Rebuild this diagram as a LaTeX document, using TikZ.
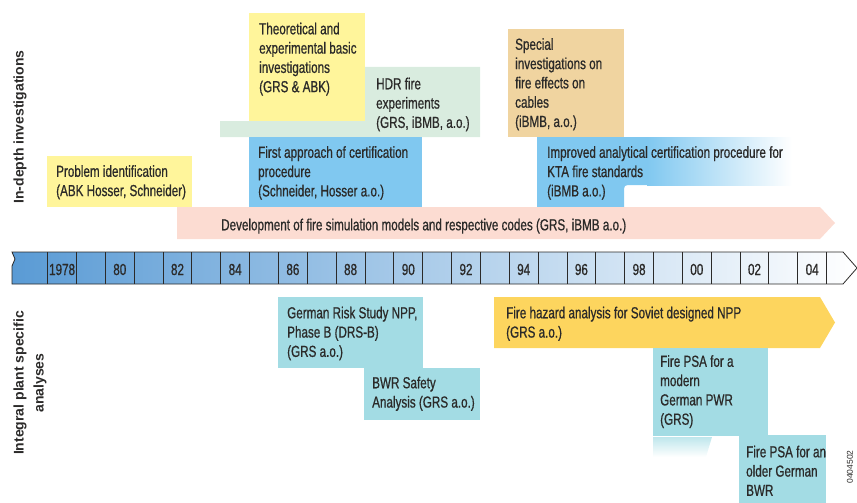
\documentclass[tikz,border=0pt]{standalone}
\usepackage{fontspec}
\newfontfamily\boxfont[FakeStretch=0.73,FakeBold=0.7]{Liberation Sans}
\newfontfamily\sidefont{Liberation Sans}
\definecolor{paleyellow}{HTML}{FFF59B}
\definecolor{palegreen}{HTML}{D9ECDF}
\definecolor{skyblue}{HTML}{80C8F0}
\definecolor{sand}{HTML}{F0D4A0}
\definecolor{blush}{HTML}{FCDCD2}
\definecolor{aqua}{HTML}{A3DCE4}
\definecolor{gold}{HTML}{FDD55E}
\definecolor{tlblue}{HTML}{5A9BD5}
\definecolor{inktext}{HTML}{2B2A29}
\begin{document}
\begin{tikzpicture}[x=1pt,y=1pt,yscale=-1,
  boxtext/.style={anchor=north west,inner sep=0pt,align=left,text=inktext,font=\boxfont\fontsize{16}{19.3}\selectfont},
  sidetext/.style={rotate=90,inner sep=0pt,align=center,text=inktext,font=\sidefont\bfseries\fontsize{14}{20}\selectfont},
  yeartext/.style={inner sep=0pt,text=inktext,font=\boxfont\fontsize{16}{18}\selectfont},
  yearline/.style={draw=inktext,line width=1pt}]
\useasboundingbox (0,0) rectangle (857,503);

%Shape: Timeline band
\shade [left color=tlblue,right color=white] (12,252) -- (843,252) -- (857,268) -- (843,284) -- (12,284) -- (12,266) -- (15,259) -- cycle ;
\foreach \k in {0,...,27}
  \draw [yearline] ({47.7+28.85*\k},252) -- ({47.7+28.85*\k},284) ;
\draw [draw=inktext,line width=0.8pt] (12,252) -- (843,252) -- (857,268) -- (843,284) -- (12,284) -- (12,266) -- (15,259) -- cycle ;
% Text Node
\foreach \k/\yr in {0/1978,2/80,4/82,6/84,8/86,10/88,12/90,14/92,16/94,18/96,20/98,22/00,24/02,26/04}
  \node [yeartext] (yr\yr) at ({47.7+28.85*\k+14.4},269.5) {\yr};

%Shape: Rectangle
\fill [paleyellow] (47,156) rectangle (192,207) ;
%Shape: Polygon
\fill [palegreen] (220,121) -- (365,121) -- (365,67) -- (480,67) -- (480,137) -- (220,137) -- cycle ;
%Shape: Rectangle
\fill [paleyellow] (249,13) rectangle (365,121) ;
%Shape: Rectangle
\fill [skyblue] (249,137) rectangle (422,207) ;
%Shape: Rectangle
\fill [sand] (508,29) rectangle (624,137) ;
%Shape: Polygon
\fill [skyblue] (537,137) -- (647.5,137) -- (647.5,185) -- (632,185) .. controls (624,185) .. (624,193) -- (624,207) -- (537,207) -- cycle ;
\shade [left color=skyblue,right color=white] (647,137) rectangle (792,185) ;
%Shape: Arrow
\fill [blush] (177,207) -- (820,207) -- (835,223) -- (820,239) -- (177,239) -- cycle ;

%Shape: Rectangle
\fill [aqua] (278,297) rectangle (423,368) ;
%Shape: Rectangle
\fill [aqua] (364,368) rectangle (480,420) ;
%Shape: Arrow
\fill [gold] (494,297) -- (820,297) -- (835,322.5) -- (820,348) -- (494,348) -- cycle ;
%Shape: Rectangle
\fill [aqua] (653,348) rectangle (768,435.5) ;
\shade [top color=aqua!70,bottom color=white] (653,437) -- (712,437) -- (706,457) -- (653,457) -- cycle ;
%Shape: Rectangle
\fill [aqua] (739,435) rectangle (826,503) ;

% Text Node
\node [sidetext] (sideup) at (20,127) {In-depth investigations};
% Text Node
\node [sidetext] (sidedown) at (30,383) {Integral plant specific\\analyses};
% Text Node
\node [boxtext] (probtxt) at (56,165) {Problem identification\\(ABK Hosser, Schneider)};
% Text Node
\node [boxtext] (theotxt) at (259,22.5) {Theoretical and\\experimental basic\\investigations\\(GRS \& ABK)};
% Text Node
\node [boxtext] (hdrtxt) at (376,77.5) {HDR fire\\experiments\\(GRS, iBMB, a.o.)};
% Text Node
\node [boxtext] (firsttxt) at (258,146) {First approach of certification\\procedure\\(Schneider, Hosser a.o.)};
% Text Node
\node [boxtext] (specialtxt) at (515,38) {Special\\investigations on\\fire effects on\\cables\\(iBMB, a.o.)};
% Text Node
\node [boxtext] (improvtxt) at (547,146) {Improved analytical certification procedure for\\KTA fire standards\\(iBMB a.o.)};
% Text Node
\node [boxtext] (devtxt) at (221,218.5) {Development of fire simulation models and respective codes (GRS, iBMB a.o.)};
% Text Node
\node [boxtext] (drstxt) at (287,306.5) {German Risk Study NPP,\\Phase B (DRS-B)\\(GRS a.o.)};
% Text Node
\node [boxtext] (bwrtxt) at (372,376.5) {BWR Safety\\Analysis (GRS a.o.)};
% Text Node
\node [boxtext] (sovtxt) at (506,306.5) {Fire hazard analysis for Soviet designed NPP\\(GRS a.o.)};
% Text Node
\node [boxtext] (pwrtxt) at (660,355) {Fire PSA for a\\modern\\German PWR\\(GRS)};
% Text Node
\node [boxtext] (oldtxt) at (746,445.5) {Fire PSA for an\\older German\\BWR};
% Text Node
\node [rotate=90,inner sep=0pt,text=inktext,font=\sidefont\fontsize{8.5}{10}\selectfont] (docnum) at (850,467) {0404502};

\end{tikzpicture}
\end{document}
